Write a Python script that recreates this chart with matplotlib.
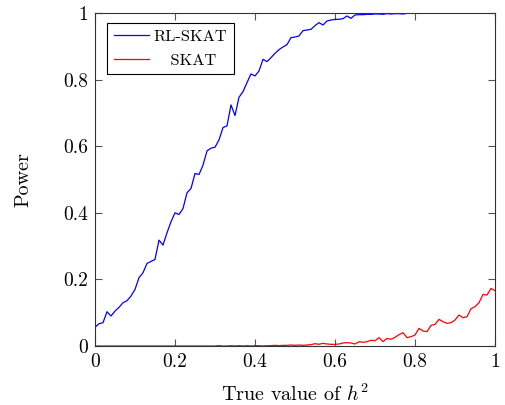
import numpy as np
import matplotlib
matplotlib.use("Agg")
import matplotlib.pyplot as plt

plt.rcParams['font.family'] = ['cmr10', 'DejaVu Serif']
plt.rcParams['mathtext.fontset'] = 'cm'
plt.rcParams['axes.formatter.use_mathtext'] = True

h2 = np.round(np.arange(0, 1.0001, 0.01), 2)

rl_skat = [0.056, 0.067, 0.070, 0.103, 0.090, 0.105, 0.116, 0.130, 0.136, 0.150,
           0.170, 0.205, 0.220, 0.248, 0.254, 0.260, 0.318, 0.303, 0.340, 0.373,
           0.400, 0.395, 0.413, 0.460, 0.473, 0.518, 0.515, 0.543, 0.586, 0.594,
           0.597, 0.619, 0.656, 0.661, 0.724, 0.692, 0.747, 0.764, 0.791, 0.817,
           0.811, 0.826, 0.861, 0.854, 0.866, 0.879, 0.890, 0.898, 0.905, 0.926,
           0.928, 0.931, 0.947, 0.949, 0.951, 0.962, 0.971, 0.964, 0.976, 0.979,
           0.981, 0.981, 0.983, 0.991, 0.984, 0.994, 0.995, 0.995, 0.996, 0.996,
           0.997, 0.997, 0.996, 0.998, 0.997, 0.998, 0.998, 0.997, 0.999, 0.999,
           1.000, 1.000, 1.000, 1.000, 1.000, 1.000, 1.000, 1.000, 1.000, 1.000,
           1.000, 1.000, 1.000, 1.000, 1.000, 1.000, 1.000, 1.000, 1.000, 1.000,
           1.000]

skat = [0.000, 0.000, 0.000, 0.000, 0.000, 0.000, 0.000, 0.000, 0.000, 0.000,
        0.000, 0.000, 0.000, 0.000, 0.000, 0.000, 0.000, 0.000, 0.000, 0.000,
        0.000, 0.000, 0.000, 0.000, 0.000, 0.000, 0.000, 0.000, 0.000, 0.000,
        0.000, 0.001, 0.000, 0.000, 0.001, 0.000, 0.001, 0.000, 0.001, 0.000,
        0.001, 0.001, 0.000, 0.001, 0.001, 0.002, 0.001, 0.002, 0.002, 0.003,
        0.002, 0.003, 0.002, 0.003, 0.004, 0.007, 0.005, 0.008, 0.006, 0.005,
        0.005, 0.006, 0.009, 0.010, 0.009, 0.006, 0.013, 0.011, 0.013, 0.017,
        0.016, 0.025, 0.013, 0.023, 0.020, 0.026, 0.034, 0.040, 0.025, 0.028,
        0.033, 0.053, 0.045, 0.043, 0.062, 0.065, 0.080, 0.073, 0.068, 0.070,
        0.078, 0.093, 0.085, 0.088, 0.112, 0.118, 0.130, 0.155, 0.153, 0.173,
        0.166]

xticks = [0, 0.2, 0.4, 0.6, 0.8, 1]
xticklabels = ["0", "0.2", "0.4", "0.6", "0.8", "1"]
yticks = [0, 0.2, 0.4, 0.6, 0.8, 1]
yticklabels = ["0", "0.2", "0.4", "0.6", "0.8", "1"]

fig = plt.figure(figsize=(5.06, 4.05), dpi=100)
ax = fig.add_axes([95/506, 1-346/405, 400/506, 333/405])

ax.plot(h2, rl_skat, color='#0000ff', lw=0.9, label='RL-SKAT')
ax.plot(h2, skat, color='#ff0000', lw=0.9, label='   SKAT')

ax.set_xlim(0, 1)
ax.set_ylim(0, 1)
ax.set_xticks(xticks)
ax.set_xticklabels(xticklabels)
ax.set_yticks(yticks)
ax.set_yticklabels(yticklabels)
ax.tick_params(direction='in', top=True, right=True, length=5, width=0.8,
               color='#555555', labelsize=14, pad=5)
for s in ax.spines.values():
    s.set_linewidth(0.8)
    s.set_color('#333333')

ax.set_xlabel('True value of $h^2$', fontsize=14.5, labelpad=9)
ax.set_ylabel('Power', fontsize=14.5, labelpad=22)

leg = ax.legend(loc='upper left', fontsize=11.8, frameon=True, fancybox=False,
                edgecolor='black', framealpha=1, borderpad=0.4,
                handlelength=2.15, handletextpad=0.3, labelspacing=0.55,
                borderaxespad=0, bbox_to_anchor=(0.03, 0.97))
leg.get_frame().set_linewidth(0.8)

fig.savefig('out.png', dpi=100)
